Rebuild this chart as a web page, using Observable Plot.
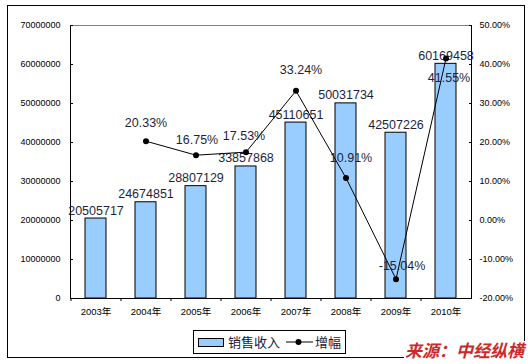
<!DOCTYPE html>
<html><head><meta charset="utf-8">
<script src="https://cdn.jsdelivr.net/npm/d3@7"></script>
<script src="https://cdn.jsdelivr.net/npm/@observablehq/plot@0.6"></script>
<style>
body{margin:0;background:#fff;}
#wrap{position:relative;width:528px;height:364px;overflow:hidden;font-family:"Liberation Sans",Arial,"Noto Sans CJK SC",sans-serif;}
#wrap svg{position:absolute;left:0;top:0;}
.abs{position:absolute;box-sizing:border-box;}
#border{left:7px;top:5px;width:518px;height:353px;border:1px solid #000;}
#legend{left:193px;top:330px;width:153px;height:24px;border:1px solid #000;background:#fff;}
#sw1{left:198px;top:338px;width:26px;height:9px;border:1px solid #000;background:#99ccff;}
.lt{font-family:"Noto Sans CJK SC",sans-serif;font-size:13px;line-height:14px;color:#1a1a3a;white-space:nowrap;}
#src{left:404px;top:341px;font-family:"Noto Sans CJK SC",sans-serif;font-weight:bold;font-style:italic;font-size:17px;line-height:18px;color:#cc2a2a;background:#fff;white-space:nowrap;padding:0 1px;}
</style></head>
<body>
<div id="wrap">
  <div id="border" class="abs"></div>
</div>
<script>
const years = ["2003年","2004年","2005年","2006年","2007年","2008年","2009年","2010年"];
const revenue = [20505717,24674851,28807129,33857868,45110651,50031734,42507226,60169458];
const growthYears = ["2004年","2005年","2006年","2007年","2008年","2009年","2010年"];
const growth = [20.33,16.75,17.53,33.24,10.91,-15.04,41.55];
const leftTicks = [0,10000000,20000000,30000000,40000000,50000000,60000000,70000000];
const rightTicks = [-20,-10,0,10,20,30,40,50];

const pctMin = -20, pctMax = 50, yMax = 70000000;
const pctToY = p => (p - pctMin) / (pctMax - pctMin) * yMax;
const yToPct = v => v / yMax * (pctMax - pctMin) + pctMin;

const bars = years.map((y, i) => ({year: y, value: revenue[i]}));
const pts = growthYears.map((y, i) => ({year: y, pct: growth[i], yv: pctToY(growth[i])}));

// label placement (style) for growth labels
const labelOffsets = [[0,-18],[1,-15],[-2,-16],[5,-21],[5,-20],[6,-13],[3,20]];
const textColor = "#1f1f40";
const font = "'Liberation Sans', Arial, 'Noto Sans CJK SC', sans-serif";

const chart = Plot.plot({
  width: 528, height: 364,
  marginLeft: 70, marginRight: 57, marginTop: 25, marginBottom: 66,
  style: {fontFamily: font, background: "transparent", overflow: "visible"},
  x: {type: "band", domain: years, paddingInner: 0.58, paddingOuter: 0.29, label: null},
  y: {domain: [0, yMax], label: null},
  marks: [
    Plot.frame({anchor: "top", stroke: "#808080"}),
    Plot.barY(bars, {x: "year", y: "value", fill: "#99ccff", stroke: "#000", strokeWidth: 1}),
    Plot.ruleY([0], {stroke: "#000"}),
    Plot.frame({anchor: "left", stroke: "#000"}),
    Plot.frame({anchor: "right", stroke: "#000"}),
    Plot.axisY({anchor: "left", ticks: leftTicks, tickFormat: d => String(d), tickSize: -3, tickPadding: 13, fontSize: 9, fill: "#000", label: null}),
    Plot.axisY({anchor: "right", ticks: rightTicks.map(pctToY), tickFormat: d => yToPct(d).toFixed(2) + "%", tickSize: -3, tickPadding: 11, fontSize: 9, fill: "#000", label: null}),
    Plot.axisX({tickSize: 0, tickPadding: 10, fontSize: 9.5, fill: "#000", label: null}),
    Plot.axisX({tickSize: 3, dx: -25, fill: "none", label: null}),
    Plot.text(bars, {x: "year", y: "value", text: d => String(d.value), dy: -8, lineAnchor: "middle", fontSize: 12.5, fill: textColor}),
    Plot.line(pts, {x: "year", y: "yv", stroke: "#000", strokeWidth: 1}),
    Plot.dot(pts, {x: "year", y: "yv", r: 3, fill: "#000", stroke: "none"}),
    ...pts.map((p, i) => Plot.text([p], {x: "year", y: "yv", text: d => d.pct.toFixed(2) + "%", dx: labelOffsets[i][0], dy: labelOffsets[i][1], lineAnchor: "middle", fontSize: 12.5, fill: textColor}))
  ]
});
const wrap = document.getElementById("wrap");
wrap.insertBefore(chart, wrap.firstChild);

function addDiv(id, cls, html, style) {
  const d = document.createElement("div");
  if (id) d.id = id;
  d.className = cls;
  if (html) d.textContent = html;
  if (style) d.setAttribute("style", style);
  wrap.appendChild(d);
  return d;
}
addDiv("legend", "abs");
addDiv("sw1", "abs");
addDiv(null, "abs lt", "销售收入", "left:228px;top:335px;");
const ls = document.createElementNS("http://www.w3.org/2000/svg", "svg");
ls.setAttribute("width", 28); ls.setAttribute("height", 10);
ls.setAttribute("style", "position:absolute;left:286px;top:337px;");
ls.innerHTML = '<line x1="0" y1="5" x2="27" y2="5" stroke="#000" stroke-width="1"/><circle cx="12.5" cy="5" r="3" fill="#000"/>';
wrap.appendChild(ls);
addDiv(null, "abs lt", "增幅", "left:315px;top:335px;");
addDiv("src", "abs", "来源：中经纵横");
</script>
</body></html>
